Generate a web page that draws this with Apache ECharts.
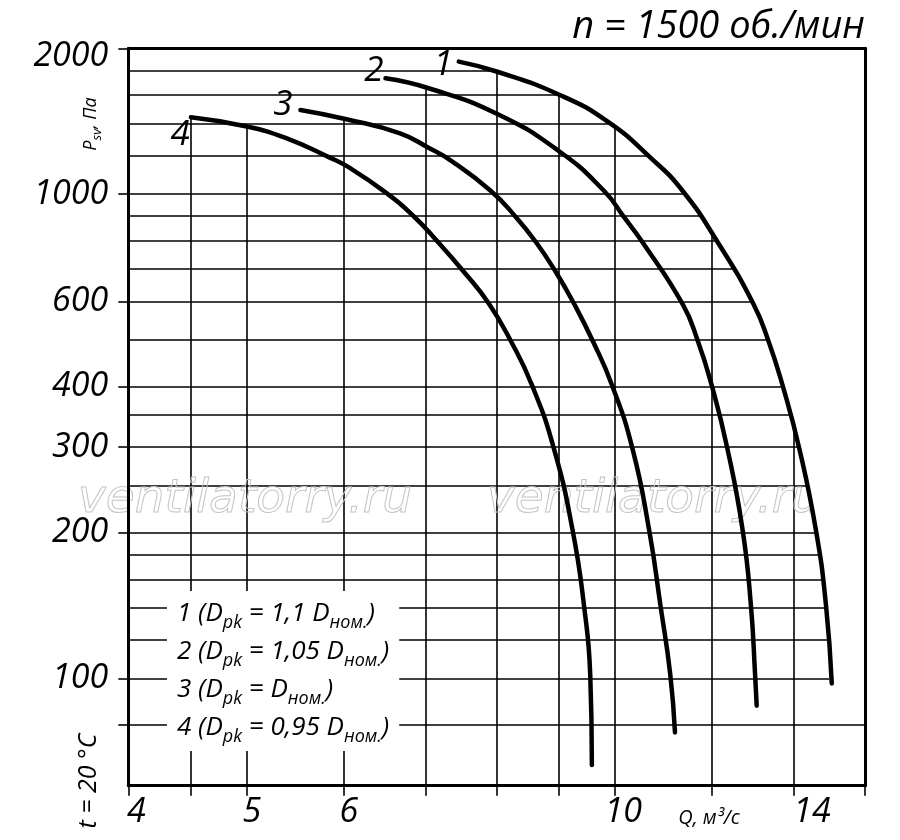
<!DOCTYPE html>
<html>
<head>
<meta charset="utf-8">
<script src="https://cdn.jsdelivr.net/npm/echarts@6/dist/echarts.min.js"></script>
<style>
html, body { margin: 0; padding: 0; background: #fff; }
#chart { width: 900px; height: 840px; }
</style>
</head>
<body>
<div id="chart"></div>
<script>
// ---- Data ----
const Q_MIN = 4, Q_MAX = 16;
const P_MIN = 60, P_MAX = 2000;

// Curve 1 (D_pk = 1,1 D_ном.)
const q1 = [7.45, 8.01, 9.01, 9.86, 10.69, 11.35, 12.12, 12.97, 13.34, 13.70, 14.14, 14.59, 14.87, 15.03];
const p1 = [1877, 1789, 1602, 1411, 1188, 1016, 797, 593, 498, 403, 298, 202, 141, 97.6];
// Curve 2 (D_pk = 1,05 D_ном.)
const q2 = [6.49, 7.04, 8.01, 9.01, 9.79, 10.16, 10.52, 11.35, 11.68, 11.99, 12.35, 12.71, 12.91, 13.01, 13.05];
const p2 = [1734, 1654, 1463, 1223, 1016, 898, 797, 593, 498, 403, 298, 202, 141, 102, 87.8];
// Curve 3 (D_pk = D_ном.)
const q3 = [5.53, 6.03, 6.67, 7.05, 7.33, 7.91, 8.29, 8.61, 8.94, 9.25, 9.58, 9.94, 10.33, 10.66, 10.89, 11.09, 11.19];
const p3 = [1491, 1427, 1335, 1243, 1175, 1016, 898, 797, 691, 595, 499, 403, 298, 202, 141, 102, 77.3];
// Curve 4 (D_pk = 0,95 D_ном.)
const q4 = [4.5, 5.0, 5.39, 5.85, 6.03, 6.47, 6.84, 7.16, 7.52, 7.88, 8.21, 8.55, 8.91, 9.23, 9.43, 9.54, 9.57];
const p4 = [1441, 1379, 1303, 1188, 1143, 1014, 901, 797, 691, 595, 499, 403, 298, 202, 141, 102, 66.2];

const curveNames = ['1', '2', '3', '4'];

// Grid / tick / label values
const xGridValues = [4.5, 5, 6, 7, 8, 9, 10, 12, 14];
const xTickValues = [4, 4.5, 5, 6, 7, 8, 9, 10, 12, 14, 16];
const xLabelValues = [4, 5, 6, 10, 14];
const yGridValues = [1800, 1600, 1400, 1200, 1000, 900, 800, 700, 600, 500, 400, 350, 300, 250, 200, 180, 160, 140, 120, 100, 80];
const yTickValues = [2000, 1000, 600, 400, 300, 200, 100, 80];
const yLabelValues = [2000, 1000, 600, 400, 300, 200, 100];

// Texts
const titleText = 'n = 1500 об./мин';
const xAxisName = 'Q, м³/с';
const yAxisNameMain = 'P';
const yAxisNameSub = 'sv';
const yAxisNameTail = ', Па';
const tempText = 't = 20 °C';
const legendIds = ['1', '2', '3', '4'];
const legendRatios = ['1,1 ', '1,05 ', '', '0,95 '];
const watermarkText = 'ventilatorry.ru';

// ---- Styles ----
const FONT = "'Open Sans', 'Noto Sans', sans-serif";
const BLACK = '#000';
const X_LABEL_SHIFT = { 4: 8, 5: 5, 6: 5, 10: 8, 14: 18 };
const CURVE_LABEL = [
  { distance: 5, offset: [0, 3] },
  { distance: 3, offset: [2, -7] },
  { distance: 7, offset: [0, -5] },
  { distance: 0, offset: [0, 18] }
];

const curves = [[q1, p1], [q2, p2], [q3, p3], [q4, p4]];

// White mask above the upper envelope of all curves (hides vertical grid lines there)
function envelopeData() {
  const order = [[q4, p4], [q3, p3], [q2, p2], [q1, p1]];
  const pts = [[Q_MIN, p4[0]]];
  for (let i = 0; i < order.length; i++) {
    const qs = order[i][0], ps = order[i][1];
    const nextStart = i < order.length - 1 ? order[i + 1][0][0] : Infinity;
    for (let k = 0; k < qs.length; k++) {
      if (qs[k] < nextStart) pts.push([qs[k], ps[k]]);
    }
  }
  pts.push([Q_MAX, p1[p1.length - 1]]);
  return pts;
}
// White mask above curve 1 (hides horizontal grid lines there)
function curve1MaskData() {
  const pts = q1.map((q, i) => [q, p1[i]]);
  pts.push([Q_MAX, p1[p1.length - 1]]);
  return pts;
}

const SMOOTH = 0.5;
const series = [];

// vertical grid lines
series.push({
  type: 'line', name: 'gridV', data: [], silent: true, z: 1,
  markLine: {
    silent: true, z: 1, animation: false, symbol: ['none', 'none'],
    label: { show: false },
    lineStyle: { color: BLACK, width: 1.6, type: 'solid' },
    emphasis: { disabled: true },
    data: xGridValues.map(v => ({ xAxis: v }))
  }
});
// envelope mask
series.push({
  type: 'line', name: 'maskA', z: 2, silent: true, symbol: 'none', smooth: SMOOTH,
  data: envelopeData(),
  lineStyle: { width: 0, opacity: 0 },
  areaStyle: { color: '#fff', opacity: 1, origin: 'end' }
});
// horizontal grid lines
series.push({
  type: 'line', name: 'gridH', data: [], silent: true, z: 3,
  markLine: {
    silent: true, z: 3, animation: false, symbol: ['none', 'none'],
    label: { show: false },
    lineStyle: { color: BLACK, width: 1.6, type: 'solid' },
    emphasis: { disabled: true },
    data: yGridValues.map(v => ({ yAxis: v }))
  }
});
// curve 1 mask
series.push({
  type: 'line', name: 'maskB', z: 4, silent: true, symbol: 'none', smooth: SMOOTH,
  data: curve1MaskData(),
  lineStyle: { width: 0, opacity: 0 },
  areaStyle: { color: '#fff', opacity: 1, origin: 'end' }
});
// curves
curves.forEach((c, idx) => {
  const qs = c[0], ps = c[1];
  const lab = CURVE_LABEL[idx];
  series.push({
    type: 'line', name: curveNames[idx], z: 5, silent: true,
    smooth: SMOOTH, symbol: 'none', showAllSymbol: true,
    lineStyle: { color: BLACK, width: 4.5, cap: 'round', join: 'round' },
    data: qs.map((q, i) => i === 0 ? {
      value: [q, ps[i]],
      symbol: 'circle', symbolSize: 2,
      itemStyle: { color: BLACK },
      label: {
        show: true, position: 'left', distance: lab.distance, offset: lab.offset,
        formatter: curveNames[idx],
        fontSize: 35, fontStyle: 'italic', fontFamily: FONT, color: BLACK
      }
    } : [q, ps[i]])
  });
});

const xRich = {};
xLabelValues.forEach(v => {
  xRich['x' + v] = { fontSize: 34, fontStyle: 'italic', fontFamily: FONT, color: BLACK, padding: [0, 0, 0, 2 * X_LABEL_SHIFT[v]] };
});

const legendText = legendIds.map((id, i) =>
  '{m|' + id + ' (D}{s|pk}{m| = ' + legendRatios[i] + 'D}{s|ном.}{m|)}'
).join('\n');

const option = {
  animation: false,
  backgroundColor: '#fff',
  textStyle: { fontFamily: FONT },
  title: {
    text: titleText, right: 35, top: 8, padding: 0,
    textStyle: { fontSize: 38, fontStyle: 'italic', fontWeight: 'normal', fontFamily: FONT, color: BLACK }
  },
  grid: { left: 128.3, right: 35, top: 48.3, bottom: 54.3, containLabel: false, outerBoundsMode: 'none' },
  xAxis: [
    {
      type: 'log', logBase: 10, min: Q_MIN, max: Q_MAX, position: 'bottom', z: 6,
      axisLine: { show: true, onZero: false, lineStyle: { color: BLACK, width: 3 } },
      axisTick: { show: true, inside: false, length: 10, customValues: xTickValues, lineStyle: { color: BLACK, width: 1.6 } },
      minorTick: { show: false },
      splitLine: { show: false },
      axisLabel: {
        show: true, customValues: xLabelValues, margin: 10,
        formatter: v => { const r = Math.round(v); return '{x' + r + '|' + r + '}'; },
        rich: xRich,
        fontSize: 34, fontStyle: 'italic', fontFamily: FONT, color: BLACK
      }
    },
    {
      type: 'log', logBase: 10, min: Q_MIN, max: Q_MAX, position: 'top', z: 6,
      axisLine: { show: true, onZero: false, lineStyle: { color: BLACK, width: 3 } },
      axisTick: { show: false }, axisLabel: { show: false }, splitLine: { show: false }
    }
  ],
  yAxis: [
    {
      type: 'log', logBase: 10, min: P_MIN, max: P_MAX, position: 'left', z: 6,
      axisLine: { show: true, onZero: false, lineStyle: { color: BLACK, width: 3 } },
      axisTick: { show: true, inside: false, length: 10, customValues: yTickValues, lineStyle: { color: BLACK, width: 1.6 } },
      minorTick: { show: false },
      splitLine: { show: false },
      axisLabel: {
        show: true, customValues: yLabelValues, margin: 20,
        formatter: v => { const r = Math.round(v); return (r === P_MAX ? '{t|' : '{n|') + r + '}'; },
        rich: {
          t: { fontSize: 34, fontStyle: 'italic', fontFamily: FONT, color: BLACK, padding: [16, 0, 0, 0] },
          n: { fontSize: 34, fontStyle: 'italic', fontFamily: FONT, color: BLACK }
        },
        fontSize: 34, fontStyle: 'italic', fontFamily: FONT, color: BLACK
      }
    },
    {
      type: 'log', logBase: 10, min: P_MIN, max: P_MAX, position: 'right', z: 6,
      axisLine: { show: true, onZero: false, lineStyle: { color: BLACK, width: 3 } },
      axisTick: { show: false }, axisLabel: { show: false }, splitLine: { show: false }
    }
  ],
  graphic: {
    elements: [
      {
        type: 'text', x: 91, y: 124, rotation: Math.PI / 2, z: 10, silent: true,
        style: {
          text: '{m|' + yAxisNameMain + '}{s|' + yAxisNameSub + '}{m|' + yAxisNameTail + '}',
          rich: {
            m: { fontSize: 18, fontStyle: 'italic', fontFamily: FONT, fill: BLACK, verticalAlign: 'middle' },
            s: { fontSize: 13, fontStyle: 'italic', fontFamily: FONT, fill: BLACK, verticalAlign: 'middle', padding: [12, 0, 0, 0] }
          },
          align: 'center', verticalAlign: 'middle'
        }
      },
      {
        type: 'text', x: 89, y: 781, rotation: Math.PI / 2, z: 10, silent: true,
        style: { text: tempText, fontSize: 25, fontStyle: 'italic', fontFamily: FONT, fill: BLACK, align: 'center', verticalAlign: 'middle' }
      },
      {
        type: 'text', x: 709, y: 818, z: 10, silent: true,
        style: { text: xAxisName, fontSize: 20, fontStyle: 'italic', fontFamily: FONT, fill: BLACK, align: 'center', verticalAlign: 'middle' }
      },
      {
        type: 'text', x: 167, y: 591, z: 10, silent: true,
        style: {
          text: legendText,
          rich: {
            m: { fontSize: 26, fontStyle: 'italic', fontFamily: FONT, fill: BLACK, verticalAlign: 'middle', lineHeight: 38 },
            s: { fontSize: 18, fontStyle: 'italic', fontFamily: FONT, fill: BLACK, verticalAlign: 'middle', lineHeight: 38, padding: [18, 0, 0, 0] }
          },
          lineHeight: 38,
          backgroundColor: '#fff', padding: [4, 10, 4, 10],
          align: 'left', verticalAlign: 'top'
        }
      },
      {
        type: 'text', x: 245, y: 500, z: 4, silent: true,
        style: { text: watermarkText, fontSize: 47, fontStyle: 'italic', fontFamily: "'DejaVu Sans', sans-serif",
          fill: 'rgba(0,0,0,0)', stroke: '#c4c4c4', lineWidth: 1, align: 'center', verticalAlign: 'middle' }
      },
      {
        type: 'text', x: 654, y: 500, z: 4, silent: true,
        style: { text: watermarkText, fontSize: 47, fontStyle: 'italic', fontFamily: "'DejaVu Sans', sans-serif",
          fill: 'rgba(0,0,0,0)', stroke: '#c4c4c4', lineWidth: 1, align: 'center', verticalAlign: 'middle' }
      }
    ]
  },
  series: series
};

const chart = echarts.init(document.getElementById('chart'), null, { renderer: 'canvas' });
chart.setOption(option);
</script>
</body>
</html>
